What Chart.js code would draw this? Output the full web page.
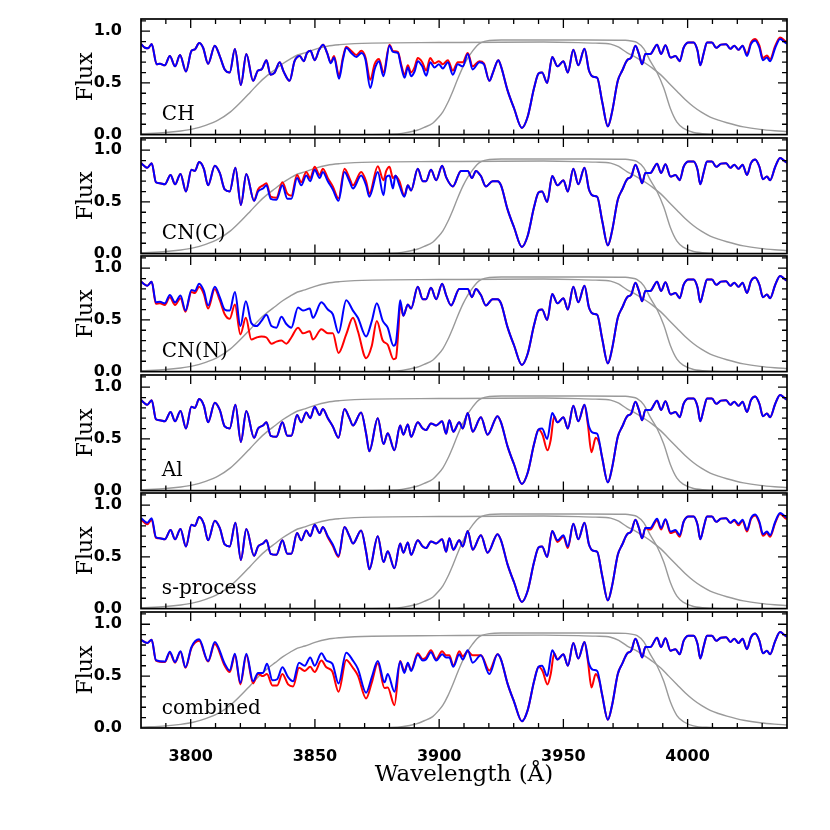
<!DOCTYPE html>
<html>
<head>
<meta charset="utf-8">
<script src="https://cdn.jsdelivr.net/npm/chart.js@4.4.1/dist/chart.umd.min.js"></script>
<style>
  body { margin: 0; background: #fff; }
  #quadro { position: relative; width: 830px; height: 830px; overflow: hidden; }
  #quadro canvas { position: absolute; left: 0; }
</style>
</head>
<body>
<div id="quadro"></div>
<script>
// ---- dados ----
const panelLabels = ["CH", "CN(C)", "CN(N)", "Al", "s-process", "combined"];
const xTicks = [3800, 3850, 3900, 3950, 4000];
const yTicks = [0, 0.5, 1.0];

// parte comum (linhas H e K do Ca II) 3925-4040
const tailWl = [3924.9, 3927.5, 3930.2, 3933.3, 3935.6, 3938.2, 3940, 3941.4, 3943.5, 3945.5, 3947.6, 3950, 3951.8, 3954, 3956, 3958.5, 3960.3, 3962, 3963.6, 3965.6, 3967.9, 3969.6, 3971.9, 3973.7, 3975.7, 3977.3, 3979, 3980.4, 3981.7, 3983, 3985, 3987.7, 3989.3, 3991.1, 3993.1, 3995.1, 3996.8, 3998.4, 4000.4, 4002.4, 4004, 4005.1, 4006.5, 4007.8, 4009.8, 4011.5, 4013.4, 4015.5, 4017.2, 4018.8, 4020.5, 4022.1, 4023.9, 4025.5, 4027.2, 4028.9, 4030.3, 4031.9, 4033.2, 4035.2, 4037.2, 4039.3, 4040];
const tailBlue = [.66, .43, .25, .065, .17, .45, .59, .60, .50, .75, .66, .71, .60, .82, .67, .83, .62, .56, .55, .32, .08, .22, .52, .62, .72, .745, .86, .78, .68, .78, .78, .87, .78, .865, .745, .76, .71, .84, .89, .89, .81, .67, .79, .89, .89, .84, .87, .875, .83, .86, .82, .86, .76, .875, .91, .84, .72, .745, .71, .835, .925, .89, .88];

// CH
const chWl = [3780, 3781.6, 3782.9, 3784.3, 3786.3, 3787.6, 3789.6, 3791.6, 3793.7, 3795.7, 3798.1, 3800.3, 3801.7, 3803.4, 3805, 3807, 3809.7, 3811.7, 3813.7, 3815.7, 3817.8, 3820.2, 3822.4, 3825.1, 3827.1, 3828.5, 3830.5, 3832.1, 3833.8, 3835.8, 3837.4, 3839.8, 3841.8, 3843.9,
  3845.5, 3846.8, 3848.2, 3849.9, 3851.7, 3853.3, 3854.9, 3856.4, 3857.7, 3859.7, 3861.3, 3862.6, 3864.6, 3866.7, 3868.7, 3870.3, 3872.3, 3874, 3875.8, 3877.6, 3880, 3881.4, 3883.4, 3884.7, 3886.1, 3887.4, 3888.7, 3890.1, 3891.4, 3893.2, 3894.8, 3896.4, 3898.1, 3899.9, 3901.5, 3903.5, 3905.5, 3907.5, 3909.5, 3911.5, 3913.5, 3916.2, 3918, 3920.2, 3921.8, 3923.8];
const chBlue = [.876, .84, .835, .876, .68, .685, .67, .76, .66, .77, .61, .81, .825, .885, .84, .686, .86, .76, .63, .60, .827, .48, .78, .52, .62, .63, .72, .58, .60, .70, .61, .52, .71, .76,
  .71, .79, .81, .72, .82, .87, .79, .69, .745, .54, .73, .84, .79, .75, .79, .73, .45, .63, .71, .565, .86, .80, .79, .66, .55, .65, .565, .61, .71, .66, .57, .70, .65, .68, .64, .70, .58, .68, .66, .78, .63, .70, .68, .52, .61, .72];
const chRed = [.876, .84, .835, .876, .68, .685, .67, .76, .66, .77, .61, .81, .825, .885, .84, .686, .86, .76, .63, .60, .827, .48, .78, .52, .62, .63, .72, .58, .60, .70, .61, .52, .71, .76,
  .71, .79, .81, .72, .82, .87, .79, .70, .76, .57, .75, .85, .81, .77, .81, .75, .53, .68, .73, .60, .87, .81, .80, .68, .58, .67, .60, .65, .74, .70, .62, .74, .69, .71, .68, .72, .62, .70, .70, .79, .66, .71, .69, .52, .61, .72];
const chSegWl = [4022.1, 4023.9, 4025.5, 4027.2, 4028.9, 4030.3, 4031.9, 4033.2, 4035.2, 4037.2, 4039.3, 4040];
const chSegRed = [.86, .78, .89, .925, .86, .74, .765, .73, .855, .94, .905, .895];

// CN(C)
const cncWl = [3780, 3781.2, 3782.5, 3784.3, 3786, 3787.6, 3789.6, 3791.9, 3793.7, 3795.9, 3798.1, 3800.3, 3801.7, 3803.4, 3805.3, 3807, 3809.7, 3811.7, 3813.7, 3815.7, 3818, 3820.2, 3822.4, 3825.5, 3827.1, 3829.1, 3830.5, 3832.2, 3834.5, 3836.9, 3838.9, 3840.5, 3842.8, 3844.5, 3846.5, 3848.1, 3849.9, 3851.9, 3853.2, 3855.2, 3857.2, 3859.5, 3861.9, 3863.9, 3865.3, 3868.6, 3870.6, 3871.9, 3875.3, 3877.6, 3878.7, 3880, 3881.4, 3882.4, 3884, 3886, 3887.4, 3888.7, 3891.4, 3893.4, 3894.7, 3896.7, 3898.8, 3901.2, 3902.8, 3905.5, 3908.8, 3911.5, 3913.2, 3914.8, 3916.8, 3918.8, 3921.5, 3923.5];
const cncBlue = [.875, .85, .83, .875, .69, .68, .67, .76, .67, .77, .60, .81, .80, .885, .82, .66, .85, .78, .62, .60, .83, .47, .77, .51, .60, .63, .66, .53, .52, .66, .53, .53, .73, .66, .755, .70, .81, .73, .79, .70, .62, .51, .79, .70, .63, .755, .66, .55, .79, .565, .74, .755, .63, .755, .66, .55, .66, .61, .82, .70, .70, .81, .71, .85, .74, .65, .80, .80, .73, .80, .75, .65, .70, .70];
const cncRed = [.875, .85, .83, .875, .69, .68, .67, .76, .67, .77, .60, .81, .80, .885, .82, .66, .85, .78, .62, .60, .83, .47, .77, .51, .62, .66, .68, .55, .54, .69, .58, .56, .76, .69, .79, .73, .84, .76, .82, .73, .65, .535, .82, .73, .66, .79, .70, .58, .845, .71, .80, .84, .73, .75, .70, .56, .66, .61, .82, .70, .70, .81, .71, .85, .74, .65, .80, .80, .73, .80, .75, .65, .70, .70];

// CN(N)
const cnnWl = [3780, 3781, 3782.5, 3784.3, 3786, 3787.6, 3789.6, 3791.6, 3793.7, 3795.9, 3797.9, 3800.3, 3801.7, 3803.4, 3805.3, 3807, 3809.7, 3811.7, 3813.7, 3815.7, 3817.8, 3820, 3822.2, 3824.4, 3826.5, 3828.5, 3830.5, 3832.5, 3834.5, 3836.5, 3838.5, 3840.5, 3843.2, 3845.2, 3847.9, 3849.2, 3852.6, 3855.2, 3857.2, 3859.5, 3862.6, 3865.3, 3867.3, 3870.6, 3872.9, 3874.9, 3877.3, 3879.3,
  3881.6, 3882.6, 3883.6, 3884.3, 3885.6, 3887.4, 3888.7, 3891.4, 3893.4, 3894.7, 3896.7, 3898.8, 3901.2, 3902.8, 3904.8, 3908.1, 3911.5, 3913.2, 3914.8, 3916.8, 3918.8, 3921.5, 3923.5];
const cnnBlue = [.87, .85, .83, .87, .67, .675, .66, .74, .67, .735, .59, .79, .78, .85, .78, .64, .82, .72, .60, .59, .77, .44, .68, .47, .44, .49, .55, .44, .425, .53, .46, .425, .62, .59, .61, .52, .67, .60, .555, .375, .69, .59, .52, .34, .49, .66, .49, .425,
  .25, .28, .52, .69, .54, .65, .61, .82, .70, .70, .81, .70, .85, .74, .64, .80, .80, .72, .80, .74, .64, .70, .70];
const cnnRed = [.87, .85, .83, .87, .655, .66, .645, .72, .645, .71, .58, .77, .76, .82, .75, .61, .80, .69, .555, .51, .65, .36, .52, .31, .33, .34, .33, .27, .29, .30, .27, .33, .425, .37, .39, .31, .41, .37, .37, .18, .36, .52, .39, .13, .25, .49, .30, .26,
  .12, .13, .40, .65, .54, .65, .61, .82, .70, .70, .81, .70, .85, .74, .64, .80, .80, .72, .80, .74, .64, .70, .70];

// Al e s-process (mesmo espectro azul)
const baseWl = [3780, 3781.2, 3782.5, 3784.3, 3786, 3787.6, 3789.6, 3791.9, 3793.7, 3795.9, 3798.1, 3800.3, 3801.7, 3803.4, 3805.3, 3807, 3809.7, 3811.7, 3813.7, 3815.7, 3818, 3820.2, 3822.4, 3825.5, 3827.1, 3829.1, 3830.5, 3832.2, 3834.5, 3836.9, 3838.9, 3840.5, 3842.8, 3844.5, 3846.5, 3848.1, 3849.9, 3851.9, 3853.2, 3855.2, 3857.2, 3859.5, 3861.9, 3863.9, 3865.3, 3868.6, 3870.6, 3871.9, 3875.3,
  3877.6, 3879.3, 3882, 3884.3, 3885.6, 3887.4, 3888.7, 3891.4, 3893.4, 3894.7, 3896.7, 3898.8, 3901.2, 3902.8, 3904.1, 3905.7, 3908.1, 3909.5, 3911.5, 3913.5, 3916.8, 3919.5, 3923.5];
const baseBlue = [.875, .85, .83, .875, .69, .68, .67, .76, .67, .77, .60, .81, .80, .885, .82, .66, .85, .78, .62, .60, .83, .47, .77, .51, .60, .63, .66, .53, .52, .66, .53, .53, .73, .66, .755, .70, .81, .73, .79, .70, .62, .51, .79, .70, .63, .755, .55, .38, .70,
  .45, .555, .39, .63, .54, .64, .52, .66, .60, .585, .65, .63, .67, .55, .68, .57, .66, .60, .75, .57, .71, .54, .72];
const alSeg1Wl = [3940, 3941.6, 3943.6, 3944.9, 3946.3];
const alSeg1Red = [.59, .54, .39, .49, .72];
const alSeg2Wl = [3958.5, 3959.9, 3961.3, 3963, 3964.5];
const alSeg2Red = [.83, .63, .37, .51, .45];
const sSeg1Wl = [3780, 3781.2, 3782.5, 3784.3, 3786];
const sSeg1Red = [.86, .835, .815, .86, .685];
const sSeg2Wl = [3853.2, 3855.2, 3857.2, 3859.5, 3861.9];
const sSeg2Red = [.79, .69, .605, .50, .79];
const sSeg3Wl = [3945.5, 3947.6, 3950, 3951.8, 3954];
const sSeg3Red = [.75, .645, .695, .585, .82];
const sSeg4Wl = [3983, 3985, 3987.7, 3989.3, 3991.1, 3993.1, 3995.1, 3996.8, 3998.4];
const sSeg4Red = [.78, .765, .855, .765, .86, .73, .745, .695, .84];
const sSeg5Wl = [4017.2, 4018.8, 4020.5, 4022.1, 4023.9, 4025.5, 4027.2, 4028.9, 4030.3, 4031.9, 4033.2, 4035.2, 4037.2, 4039.3, 4040];
const sSeg5Red = [.83, .85, .805, .85, .745, .865, .90, .825, .705, .73, .695, .825, .915, .875, .865];

// combined
const combWl = [3780, 3782.5, 3784.3, 3786, 3789.6, 3791.6, 3793.7, 3795.9, 3797.9, 3800.3, 3803.4, 3807, 3809.7, 3813.7, 3815.7, 3817.8, 3820, 3822.4, 3825.1, 3827.1, 3829.1, 3830.7, 3832.9, 3834.8, 3836.9, 3839.2, 3841.2, 3843.6, 3845.9, 3848.1, 3849.9, 3852.6, 3854.6, 3857, 3859.5, 3862.6, 3865.3, 3867.3, 3870.6, 3872.9, 3875.3, 3878,
  3879.3, 3882, 3884.3, 3886, 3887.4, 3888.7, 3891.4, 3893.4, 3894.7, 3896.7, 3898.8, 3901.2, 3902.8, 3904.1, 3905.7, 3908.1, 3909.5, 3911.5, 3913.5, 3916.8, 3920.2, 3923.5];
const combBlue = [.85, .82, .85, .655, .64, .735, .635, .74, .585, .78, .855, .645, .83, .62, .555, .716, .435, .716, .45, .53, .53, .62, .46, .47, .585, .49, .45, .63, .60, .68, .60, .72, .65, .62, .43, .725, .65, .57, .34, .49, .645, .44,
  .52, .35, .64, .53, .63, .55, .705, .65, .66, .73, .65, .71, .68, .68, .59, .71, .66, .75, .63, .70, .52, .71];
const combRed = [.85, .82, .85, .65, .635, .725, .63, .735, .58, .77, .84, .64, .81, .60, .54, .70, .42, .70, .43, .52, .50, .52, .41, .41, .52, .42, .40, .58, .55, .59, .54, .65, .585, .545, .35, .655, .58, .505, .285, .44, .625, .385,
  .39, .22, .645, .55, .62, .56, .72, .665, .68, .75, .665, .74, .70, .70, .60, .74, .69, .74, .70, .70, .555, .71];
const combSeg1Red = [.59, .55, .42, .52, .72];
const combSeg2Red = [.83, .64, .39, .52, .45];

// curvas de transmissao dos filtros (cinza)
const wideWl = [3780, 3790, 3796, 3801, 3806, 3811, 3816, 3820, 3824, 3827.5, 3831, 3834, 3837, 3840, 3843, 3846, 3850, 3855, 3860, 3866, 3873, 3900, 3942, 3956, 3963, 3969, 3972.3, 3975.7, 3979, 3982.4, 3985.7, 3989.1, 3992.4, 3995.7, 3999, 4002.4, 4005.7, 4009.1, 4012.4, 4015.8, 4022.5, 4029.2, 4035, 4040];
const wideVal = [.008, .02, .035, .055, .09, .14, .22, .31, .41, .50, .575, .63, .685, .73, .77, .79, .825, .855, .87, .88, .885, .89, .895, .89, .885, .875, .845, .79, .75, .70, .645, .58, .50, .42, .34, .27, .215, .17, .14, .115, .075, .05, .037, .03];
const narrowWl = [3780, 3870, 3880, 3885, 3890.8, 3894, 3897.4, 3899.5, 3901.5, 3903.5, 3905.5, 3907.5, 3909.5, 3911.5, 3913.5, 3915.2, 3916.9, 3920.2, 3925, 3960, 3975, 3977.3, 3979.7, 3982.4, 3985, 3987.7, 3990.4, 3993.1, 3995.7, 3998.4, 4002.4, 4009.1, 4020, 4040];
const narrowVal = [0, 0, .004, .012, .04, .07, .11, .16, .22, .31, .42, .54, .65, .74, .81, .86, .89, .91, .915, .915, .912, .905, .89, .83, .71, .60, .45, .25, .12, .06, .02, .005, 0, 0];

// ---- montagem ----
const TOPO = 19, ALTURA = 114, PASSO = 118.6, PAD = 10;
const quadro = document.getElementById("quadro");

function pontos(wl, fl) {
  return wl.map((x, i) => ({ x, y: fl[i] }));
}

function comTrechos(pts, trechos) {
  let res = pts;
  trechos.forEach(([sw, sf]) => {
    const a = sw[0], b = sw[sw.length - 1];
    res = res.filter(p => p.x < a || p.x > b).concat(pontos(sw, sf));
  });
  return res.sort((p, q) => p.x - q.x);
}

const paineis = [
  { wl: chWl, azul: chBlue, verm: chRed, trechos: [[chSegWl, chSegRed]] },
  { wl: cncWl, azul: cncBlue, verm: cncRed, trechos: [] },
  { wl: cnnWl, azul: cnnBlue, verm: cnnRed, trechos: [] },
  { wl: baseWl, azul: baseBlue, verm: baseBlue, trechos: [[alSeg1Wl, alSeg1Red], [alSeg2Wl, alSeg2Red]] },
  { wl: baseWl, azul: baseBlue, verm: baseBlue, trechos: [[sSeg1Wl, sSeg1Red], [sSeg2Wl, sSeg2Red], [sSeg3Wl, sSeg3Red], [sSeg4Wl, sSeg4Red], [sSeg5Wl, sSeg5Red]] },
  { wl: combWl, azul: combBlue, verm: combRed, trechos: [[alSeg1Wl, combSeg1Red], [alSeg2Wl, combSeg2Red]] }
];

const moldura = {
  id: "moldura",
  afterDraw(chart, args, opts) {
    const { ctx, chartArea: a, scales: { x, y } } = chart;
    ctx.save();
    ctx.strokeStyle = "#000";
    ctx.lineWidth = 1.3;
    ctx.beginPath();
    for (let w = 3790; w < 4040; w += 10) {
      const px = x.getPixelForValue(w);
      const len = w % 50 === 0 ? 9 : 5;
      ctx.moveTo(px, a.bottom); ctx.lineTo(px, a.bottom - len);
      ctx.moveTo(px, a.top); ctx.lineTo(px, a.top + len);
    }
    for (let k = 1; k <= 11; k++) {
      const py = y.getPixelForValue(k / 10);
      const len = k % 5 === 0 ? 9 : 5;
      ctx.moveTo(a.left, py); ctx.lineTo(a.left + len, py);
      ctx.moveTo(a.right, py); ctx.lineTo(a.right - len, py);
    }
    ctx.stroke();
    ctx.lineWidth = 1.7;
    ctx.strokeRect(a.left, a.top, a.right - a.left, a.bottom - a.top);
    ctx.fillStyle = "#000";
    ctx.font = '20px "DejaVu Serif"';
    ctx.textBaseline = "alphabetic";
    ctx.fillText(opts.label, x.getPixelForValue(3788.4), y.getPixelForValue(0.137));
    ctx.restore();
  }
};

function semFolga(s) {
  s.paddingTop = 0;
  s.paddingBottom = 0;
  s.paddingLeft = 0;
  s.paddingRight = 0;
}

paineis.forEach((p, i) => {
  const ultimo = i === paineis.length - 1;
  const topo = TOPO + i * PASSO - PAD;
  const h = Math.round(ultimo ? 830 - topo : ALTURA + 2 * PAD);
  const canvas = document.createElement("canvas");
  canvas.width = 830;
  canvas.height = h;
  canvas.style.top = topo + "px";
  quadro.appendChild(canvas);

  const azul = comTrechos(pontos(p.wl, p.azul).concat(pontos(tailWl, tailBlue)), []);
  const verm = comTrechos(pontos(p.wl, p.verm).concat(pontos(tailWl, tailBlue)), p.trechos);
  const linha = { pointRadius: 0, fill: false, cubicInterpolationMode: "monotone" };

  new Chart(canvas, {
    type: "line",
    data: {
      datasets: [
        { ...linha, data: azul, borderColor: "#0000ff", borderWidth: 2 },
        { ...linha, data: verm, borderColor: "#ff0000", borderWidth: 2 },
        { ...linha, data: pontos(wideWl, wideVal), borderColor: "#9a9a9a", borderWidth: 1.4 },
        { ...linha, data: pontos(narrowWl, narrowVal), borderColor: "#9a9a9a", borderWidth: 1.4 }
      ]
    },
    options: {
      responsive: false,
      animation: false,
      events: [],
      // o rotulo "0.0" ja reserva ~10px embaixo quando o eixo x esta oculto
      layout: { padding: { left: 0, right: 43, top: PAD, bottom: ultimo ? 0 : 0.4 } },
      plugins: {
        legend: { display: false },
        tooltip: { enabled: false },
        moldura: { label: panelLabels[i] }
      },
      scales: {
        x: {
          type: "linear",
          min: 3780,
          max: 4040,
          display: ultimo,
          grid: { display: false },
          border: { display: false },
          afterBuildTicks: s => { s.ticks = xTicks.map(v => ({ value: v })); },
          afterFit: s => { s.height = h - PAD - ALTURA - 2; semFolga(s); },
          ticks: { font: { family: "DejaVu Sans", size: 16, weight: "bold" }, color: "#000", padding: 11, maxRotation: 0, autoSkip: false, callback: v => String(v) },
          title: { display: true, text: "Wavelength (Å)", font: { family: "DejaVu Serif", size: 23 }, color: "#000", padding: { top: 0, bottom: 41 } }
        },
        y: {
          min: 0,
          max: 1.118,
          grid: { display: false },
          border: { display: false },
          afterBuildTicks: s => { s.ticks = yTicks.map(v => ({ value: v })); },
          afterFit: s => { s.width = 141; semFolga(s); },
          ticks: { font: { family: "DejaVu Sans", size: 16, weight: "bold" }, color: "#000", padding: 11, callback: v => v.toFixed(1) },
          title: { display: true, text: "Flux", font: { family: "DejaVu Serif", size: 22 }, color: "#000", padding: { top: 72.8, bottom: 0 } }
        }
      }
    },
    plugins: [moldura]
  });
});
</script>
</body>
</html>
